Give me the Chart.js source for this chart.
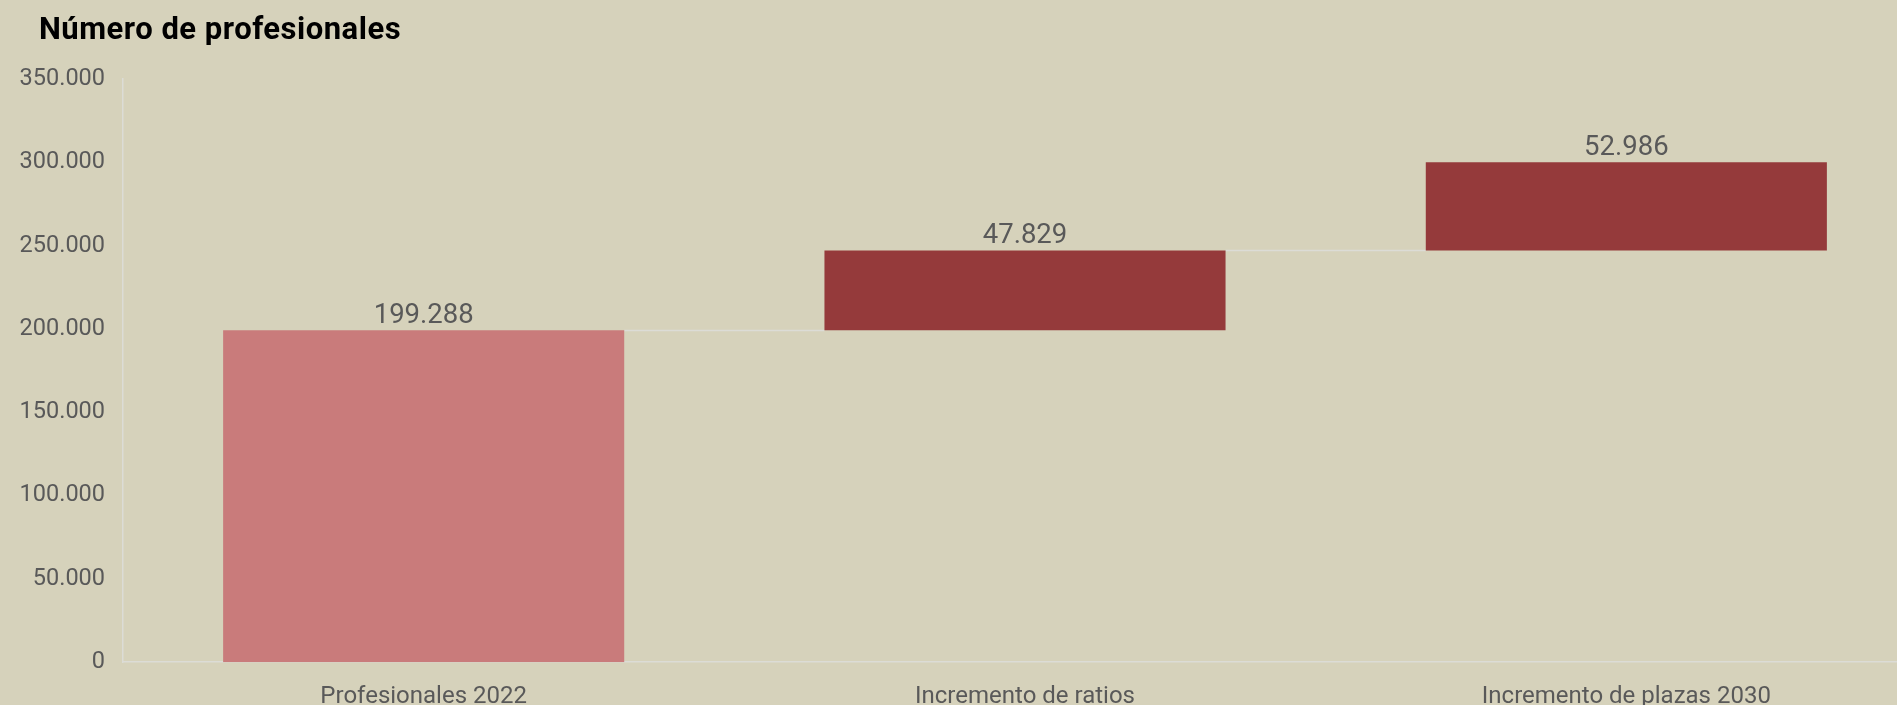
<!DOCTYPE html>
<html lang="es">
<head>
<meta charset="utf-8">
<title>Número de profesionales</title>
<script src="https://cdn.jsdelivr.net/npm/chart.js@4.4.1/dist/chart.umd.min.js"></script>
<style>
  html, body {
    margin: 0;
    padding: 0;
    overflow: hidden;
    background: #d6d2bb;
    font-family: Roboto, "Noto Sans", sans-serif;
  }
  #title {
    position: absolute;
    left: 39px;
    top: 13px;
    font-size: 31px;
    line-height: 31px;
    letter-spacing: 0.5px;
    font-weight: bold;
    color: #000;
    z-index: 2;
    white-space: nowrap;
  }
  #wrap {
    position: absolute;
    left: 0;
    top: 0;
    width: 1930px;
    height: 734px;
  }
</style>
</head>
<body>
<div id="title">Número de profesionales</div>
<div id="wrap"><canvas id="chart"></canvas></div>
<script>
// chart data
const categories = ['Profesionales 2022', 'Incremento de ratios', 'Incremento de plazas 2030'];
const increments = [199288, 47829, 52986];
const barColors = ['#c97b7b', '#953a3b', '#953a3b'];
const yMax = 350000;
const yStep = 50000;

// thousands with a dot, e.g. 199.288
function fmt(n) {
    return String(Math.round(n)).replace(/\B(?=(\d{3})+(?!\d))/g, '.');
}

// floating bars: each one starts where the previous ended
const ranges = [];
let running = 0;
increments.forEach(function (v) {
    ranges.push([running, running + v]);
    running += v;
});

// gray connector lines between the bars
const connectors = {
    id: 'connectors',
    beforeDatasetsDraw(chart) {
        const ctx = chart.ctx;
        const meta = chart.getDatasetMeta(0);
        const y = chart.scales.y;
        ctx.save();
        ctx.strokeStyle = '#dcdcd6';
        ctx.lineWidth = 1.5;
        for (let i = 0; i < meta.data.length - 1; i++) {
            const a = meta.data[i];
            const b = meta.data[i + 1];
            const py = Math.round(y.getPixelForValue(ranges[i][1])) + 0.5;
            ctx.beginPath();
            ctx.moveTo(a.x + a.width / 2, py);
            ctx.lineTo(b.x - b.width / 2, py);
            ctx.stroke();
        }
        ctx.restore();
    }
};

// value labels above each bar
const valueLabels = {
    id: 'valueLabels',
    afterDatasetsDraw(chart) {
        const ctx = chart.ctx;
        const meta = chart.getDatasetMeta(0);
        const y = chart.scales.y;
        ctx.save();
        ctx.fillStyle = '#595959';
        ctx.font = '27.5px Roboto';
        ctx.textAlign = 'center';
        ctx.textBaseline = 'alphabetic';
        meta.data.forEach(function (bar, i) {
            const top = y.getPixelForValue(ranges[i][1]);
            ctx.fillText(fmt(increments[i]), bar.x, top - 7);
        });
        ctx.restore();
    }
};

new Chart(document.getElementById('chart'), {
    type: 'bar',
    data: {
        labels: categories,
        datasets: [{
            data: ranges,
            backgroundColor: barColors,
            borderWidth: 0,
            categoryPercentage: 1,
            barPercentage: 0.667
        }]
    },
    options: {
        responsive: true,
        maintainAspectRatio: false,
        animation: false,
        layout: {
            padding: { top: 79, right: 3, bottom: 3, left: 0 }
        },
        plugins: {
            legend: { display: false },
            tooltip: { enabled: false },
            title: { display: false }
        },
        scales: {
            x: {
                grid: { display: false, drawTicks: false },
                border: { display: true, color: '#dcdcd6', width: 1.5 },
                ticks: {
                    color: '#595959',
                    font: { family: 'Roboto', size: 24 },
                    padding: 20,
                    maxRotation: 0
                }
            },
            y: {
                min: 0,
                max: yMax,
                grid: { display: false, drawTicks: false },
                border: { display: true, color: '#dcdcd6', width: 1.5 },
                ticks: {
                    stepSize: yStep,
                    color: '#595959',
                    font: { family: 'Roboto', size: 23.5 },
                    padding: 18,
                    callback: function (v) { return fmt(v); }
                },
                afterFit: function (scale) { scale.width = 123; }
            }
        }
    },
    plugins: [connectors, valueLabels]
});
</script>
</body>
</html>
